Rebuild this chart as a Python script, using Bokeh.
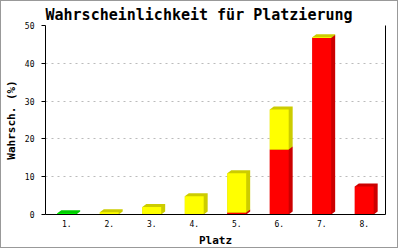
from bokeh.plotting import figure
from bokeh.models import LinearAxis, FixedTicker, Range1d
from bokeh.embed import file_html
from bokeh.resources import INLINE

# Data
places = [1, 2, 3, 4, 5, 6, 7, 8]
place_labels = ["1.", "2.", "3.", "4.", "5.", "6.", "7.", "8."]
green_vals = [0.3, 0, 0, 0, 0, 0, 0, 0]
red_vals = [0, 0, 0, 0, 0.5, 17.2, 46.7, 7.4]
yellow_vals = [0, 0.6, 2.0, 4.8, 10.4, 10.6, 0.2, 0]
y_ticks = [0, 10, 20, 30, 40, 50]

W, H = 398, 248
ML, MR, MT, MB = 42, 14, 24, 35
frame_w = W - ML - MR
frame_h = H - MT - MB
x0r, x1r = 0.5, 8.5
y0r, y1r = 0, 50
px_x = (x1r - x0r) / frame_w
px_y = (y1r - y0r) / frame_h
bar_w = 19 * px_x
dx = 4 * px_x
dy = 3 * px_y

p = figure(width=W, height=H, output_backend="svg", toolbar_location=None,
           x_range=Range1d(x0r, x1r), y_range=Range1d(y0r, y1r),
           min_border_left=ML, min_border_right=MR, min_border_top=MT, min_border_bottom=MB,
           title="Wahrscheinlichkeit für Platzierung")
p.styles = {"border": "1px solid #999999"}
p.outline_line_color = None
p.background_fill_color = "white"
p.border_fill_color = "white"

mono = "DejaVu Sans Mono"
p.title.text_font = mono
p.title.text_font_size = "15px"
p.title.text_font_style = "bold"
p.title.text_color = "black"
p.title.align = "left"
p.title.offset = 0
p.title.standoff = 3

# y axis
ya = p.yaxis[0]
ya.ticker = FixedTicker(ticks=y_ticks)
ya.axis_label = "Wahrsch. (%)"
ya.axis_label_text_font = mono
ya.axis_label_text_font_size = "11px"
ya.axis_label_text_font_style = "bold"
ya.axis_label_text_color = "black"
ya.axis_label_standoff = 4
ya.major_label_text_font = mono
ya.major_label_text_font_size = "8px"
ya.major_label_text_color = "black"
ya.major_label_standoff = 7
ya.major_tick_out = 4
ya.major_tick_in = 0
ya.minor_tick_line_color = None
ya.axis_line_color = "black"
ya.major_tick_line_color = "black"

xa = p.xaxis[0]
xa.ticker = FixedTicker(ticks=places)
xa.major_label_overrides = {k: v for k, v in zip(places, place_labels)}
xa.axis_label = "Platz"
xa.axis_label_text_font = mono
xa.axis_label_text_font_size = "11px"
xa.axis_label_text_font_style = "bold"
xa.axis_label_text_color = "black"
xa.axis_label_standoff = 4
xa.major_label_text_font = mono
xa.major_label_text_font_size = "8px"
xa.major_label_text_color = "black"
xa.major_label_standoff = 5
xa.major_tick_out = 0
xa.major_tick_in = 0
xa.major_tick_line_color = None
xa.minor_tick_line_color = None
xa.axis_line_color = "black"

ra = LinearAxis(ticker=FixedTicker(ticks=[]), major_tick_line_color=None,
                minor_tick_line_color=None, major_label_text_font_size="0px",
                major_tick_out=0, major_tick_in=0, axis_line_color="black")
p.add_layout(ra, "right")

p.xgrid.grid_line_color = None
p.ygrid.ticker = FixedTicker(ticks=y_ticks[1:])
p.ygrid.grid_line_color = "#bbbbbb"
p.ygrid.grid_line_dash = "2 4"

series = [(green_vals, "#00ff00", "#00cc00"),
          (red_vals, "#ff0000", "#cc0000"),
          (yellow_vals, "#ffff00", "#cccc00")]
base = [0.0] * len(places)
for vals, front, dark in series:
    L, R, B, T, xs, ys = [], [], [], [], [], []
    for i, x in enumerate(places):
        v = vals[i]
        if v <= 0:
            continue
        b = base[i]
        t = b + v
        l = x - bar_w / 2
        r = x + bar_w / 2
        L.append(l); R.append(r); B.append(b); T.append(t)
        xs.append([l, l, l + dx, r + dx, r + dx, r])
        ys.append([b, t, t + dy, t + dy, b + dy, b])
        base[i] = t
    if L:
        p.patches(xs, ys, fill_color=dark, line_color=None)
        p.quad(left=L, right=R, bottom=B, top=T, fill_color=front, line_color=None)

open("out.html", "w").write(file_html(p, INLINE))
